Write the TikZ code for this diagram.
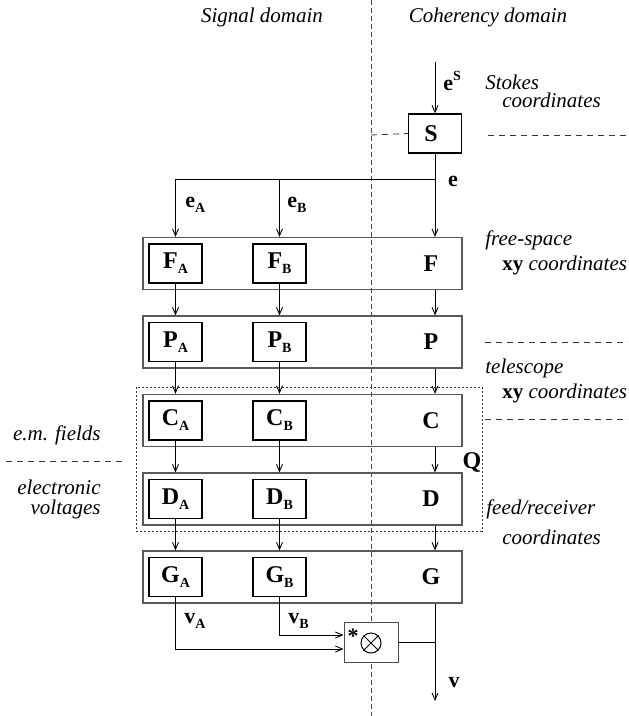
\documentclass[tikz,border=0pt]{standalone}
\usepackage{fontspec}
\setmainfont{Liberation Serif}
\usetikzlibrary{arrows.meta}
\tikzset{
    stage/.style={draw=black!65, line width=0.6pt, minimum width=159.5pt, minimum height=26pt, inner sep=0pt},
    block/.style={draw=black, line width=0.6pt, minimum width=26.5pt, minimum height=19.5pt, inner sep=0pt, font=\fontsize{12}{14}\selectfont\bfseries},
    letter/.style={inner sep=0pt, font=\fontsize{12}{14}\selectfont\bfseries},
    vec/.style={inner sep=0pt, font=\fontsize{11}{13}\selectfont\bfseries},
    note/.style={inner sep=0pt, font=\fontsize{10.5}{12}\selectfont\itshape},
    flow/.style={line width=0.45pt, -{Straight Barb[length=3.5pt,width=3pt]}},
    domainline/.style={line width=0.45pt, black!70, dash pattern=on 2.5pt off 1.5pt},
    coordline/.style={line width=0.4pt, black!80, dash pattern=on 3pt off 2.5pt},
    groupline/.style={line width=0.4pt, black!80, dash pattern=on 1pt off 1pt},
}
\newcommand\lo[1]{\raisebox{-0.45ex}{\fontsize{7}{8}\selectfont #1}}
\newcommand\hi[1]{\raisebox{0.9ex}{\fontsize{7}{8}\selectfont #1}}

\begin{document}
\begin{tikzpicture}[x=0.5pt, y=-0.5pt]
    \newcommand\colA{175.5}
    \newcommand\colB{279.5}
    \newcommand\colM{435}
    \newcommand\midX{302.5}
    \newcommand\rowF{263.5}
    \newcommand\rowP{342}
    \newcommand\rowC{420.5}
    \newcommand\rowD{499}
    \newcommand\rowG{577}

    \useasboundingbox (0, 0) rectangle (628, 716);

    % domains
    \node[note] (sig) at (262, 17) {Signal domain};
    \node[note] (coh) at (488, 17) {Coherency domain};
    \draw[domainline] (371, 0) -- (371, 716);

    % source and Stokes conversion
    \coordinate (src) at (\colM, 62);
    \coordinate (split) at (\colM, 179);
    \node[block] (S) at (\colM, 133.5) {S\kern4pt};
    \draw[flow] (src) -- (S.north);
    \draw (S.south) -- (split);
    \node[vec, anchor=west] (lbleS) at (443, 81) {e\hi{S}};
    \node[vec] (lble) at (453, 181) {e};

    \draw[coordline] (371, 135) -- (S.west);
    \draw[coordline] (488, 135) -- (628, 135);
    \node[note, anchor=west] (stk1) at (485, 82) {Stokes};
    \node[note, anchor=west] (stk2) at (502, 100) {coordinates};

    % Jones chain
    \node[stage] (F) at (\midX, \rowF) {};
    \node[block] (FA) at (\colA, \rowF) {F\lo{A}};
    \node[block] (FB) at (\colB, \rowF) {F\lo{B}};
    \node[letter] (Fm) at (431, \rowF) {F};

    \node[stage] (P) at (\midX, \rowP) {};
    \node[block] (PA) at (\colA, \rowP) {P\lo{A}};
    \node[block] (PB) at (\colB, \rowP) {P\lo{B}};
    \node[letter] (Pm) at (431, \rowP) {P};

    \node[stage] (C) at (\midX, \rowC) {};
    \node[block] (CA) at (\colA, \rowC) {C\lo{A}};
    \node[block] (CB) at (\colB, \rowC) {C\lo{B}};
    \node[letter] (Cm) at (431, \rowC) {C};

    \node[stage] (D) at (\midX, \rowD) {};
    \node[block] (DA) at (\colA, \rowD) {D\lo{A}};
    \node[block] (DB) at (\colB, \rowD) {D\lo{B}};
    \node[letter] (Dm) at (431, \rowD) {D};

    \node[stage] (G) at (\midX, \rowG) {};
    \node[block] (GA) at (\colA, \rowG) {G\lo{A}};
    \node[block] (GB) at (\colB, \rowG) {G\lo{B}};
    \node[letter] (Gm) at (431, \rowG) {G};

    \draw (split) -- (split -| FA);
    \draw[flow] (split -| FA) -- (FA |- F.north);
    \draw[flow] (split -| FB) -- (FB |- F.north);
    \draw[flow] (split) -- (split |- F.north);
    \node[vec, anchor=west] (lbleA) at (185, 205) {e\lo{A}};
    \node[vec, anchor=west] (lbleB) at (287, 205) {e\lo{B}};

    \draw[flow] (FA.south) -- (FA |- P.north);
    \draw[flow] (FB.south) -- (FB |- P.north);
    \draw[flow] (src |- F.south) -- (src |- P.north);
    \draw[flow] (PA.south) -- (PA |- C.north);
    \draw[flow] (PB.south) -- (PB |- C.north);
    \draw[flow] (src |- P.south) -- (src |- C.north);
    \draw[flow] (CA.south) -- (CA |- D.north);
    \draw[flow] (CB.south) -- (CB |- D.north);
    \draw[flow] (src |- C.south) -- (src |- D.north);
    \draw[flow] (DA.south) -- (DA |- G.north);
    \draw[flow] (DB.south) -- (DB |- G.north);
    \draw[flow] (src |- D.south) -- (src |- G.north);

    % Q group
    \node[groupline, draw, minimum width=173pt, minimum height=72pt, inner sep=0pt] (Qbox) at (309, 459) {};
    \node[letter] (Q) at (472, 462) {Q};

    % coordinate frames
    \node[note, anchor=west] (fs1) at (485, 240) {free-space};
    \node[note, anchor=west] (fs2) at (502, 265) {{\upshape\bfseries xy} coordinates};
    \draw[coordline] (485, 342) -- (628, 342);
    \node[note, anchor=west] (tel1) at (485, 368) {telescope};
    \node[note, anchor=west] (tel2) at (502, 393) {{\upshape\bfseries xy} coordinates};
    \draw[coordline] (485, 419) -- (628, 419);
    \node[note, anchor=west] (fr1) at (486, 509) {feed/receiver};
    \node[note, anchor=west] (fr2) at (502, 537) {coordinates};

    \node[note, anchor=east] (em) at (101, 435) {e.m. fields};
    \draw[coordline] (6, 461) -- (124, 461);
    \node[note, anchor=east] (el1) at (101, 487) {electronic};
    \node[note, anchor=east] (el2) at (101, 509) {voltages};

    % correlation
    \coordinate (out) at (\colM, 701);
    \node[draw=black!70, fill=white, line width=0.5pt, minimum width=27pt, minimum height=20pt, inner sep=0pt] (mult) at (371, 642) {};
    \node[circle, draw, line width=0.5pt, minimum size=10pt, inner sep=0pt] (cross) at (371, 643) {};
    \draw[line width=0.5pt] (cross.north west) -- (cross.south east) (cross.north east) -- (cross.south west);
    \node[vec] (star) at (353, 636) {*};
    \draw[flow] (GA.south) |- ([yshift=-3.5pt]mult.west);
    \draw[flow] (GB.south) |- ([yshift=3.5pt]mult.west);
    \draw (mult.east) -- (mult.east -| out);
    \draw[flow] (src |- G.south) -- (out);
    \node[vec, anchor=west] (lblvA) at (184, 621) {v\lo{A}};
    \node[vec, anchor=west] (lblvB) at (288, 621) {v\lo{B}};
    \node[vec] (lblv) at (454, 683) {v};
\end{tikzpicture}
\end{document}
